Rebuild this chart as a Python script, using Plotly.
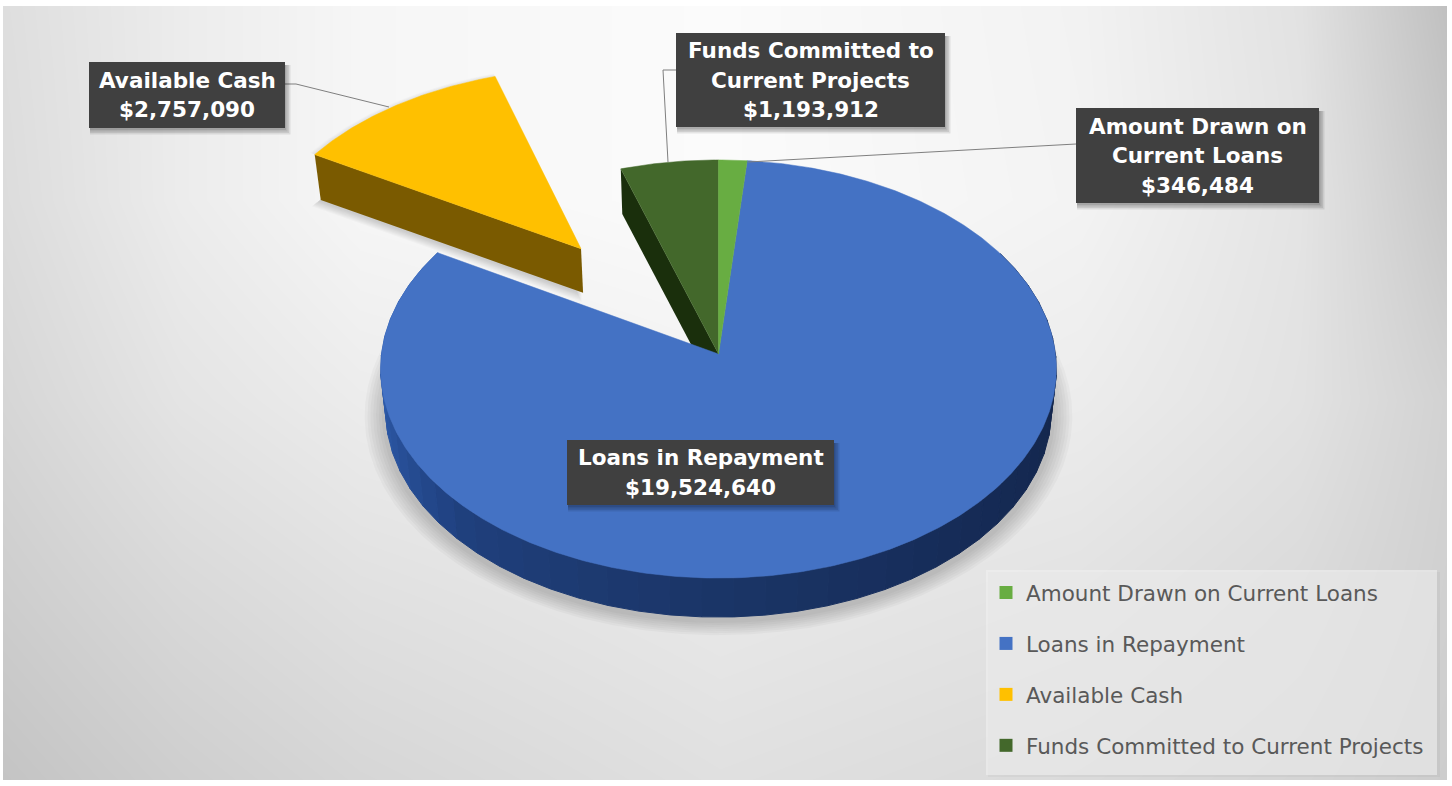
import numpy as np
import plotly.graph_objects as go

categories = ["Amount Drawn on Current Loans", "Loans in Repayment", "Available Cash", "Funds Committed to Current Projects"]
values = [346484, 19524640, 2757090, 1193912]
label_lines = [["Amount Drawn on", "Current Loans"], ["Loans in Repayment"], ["Available Cash"], ["Funds Committed to", "Current Projects"]]
explode = [0, 0, 0.6745, 0]
top_colors = ["#68ad42", "#4472c4", "#ffc000", "#43682b"]
side_colors = ["#2f5a1c", "#1e3d7a", "#7a5a00", "#1a2f0c"]
label_boxes = [(1076, 108, 1319, 203), (567, 440, 834, 505), (89, 62, 285, 128), (676, 33, 945, 127)]
leaders = [[(1076, 144), (748, 162)], [], [(285, 84), (296, 84), (389, 107)], [(676, 70), (663, 70), (668, 162)]]
bg_x = [3, 180, 360, 720, 1080, 1300, 1447]
bg_y = [6, 200, 400, 600, 780]
bg_gray = [[222, 236, 246, 251, 242, 226, 192],
           [220, 236, 246, 251, 243, 228, 200],
           [214, 228, 236, 242, 236, 226, 210],
           [205, 216, 224, 232, 226, 218, 208],
           [196, 206, 214, 224, 218, 212, 205]]

CX, CY, R, K, P = 718.5, 354.0, 337.0, 208.0, 0.0718
LOW_SCALE, LOW_SHIFT = 0.985, 42.4
LABEL_STEP = 29.5


def project(u, v, low=False):
    s = 1 / (1 + P * v)
    x = CX + R * u * s
    y = CY - K * v * s
    if low:
        x = CX + LOW_SCALE * (x - CX)
        y = CY + LOW_SCALE * (y - CY) + LOW_SHIFT
    return x, y


def wedge(a0, a1, e=0.0, low=False, grow=0.0):
    mid = np.radians((a0 + a1) / 2)
    ou, ov = e * np.sin(mid), e * np.cos(mid)
    t = np.radians(np.linspace(a0, a1, max(3, int(abs(a1 - a0) * 2))))
    rr = 1 + grow
    u = np.concatenate([[ou], ou + rr * np.sin(t), [ou]])
    v = np.concatenate([[ov], ov + rr * np.cos(t), [ov]])
    return project(u, v, low)


def poly(x, y, color, line=0.0):
    return go.Scatter(x=list(x), y=list(y), mode="lines", fill="toself", fillcolor=color,
                      line=dict(color=color, width=line), showlegend=False, hoverinfo="skip")


def mix(c0, c1, f):
    a = [int(c0[i:i + 2], 16) for i in (1, 3, 5)]
    b = [int(c1[i:i + 2], 16) for i in (1, 3, 5)]
    return "#%02x%02x%02x" % tuple(int(round(p + (q - p) * f)) for p, q in zip(a, b))


def rim_color(m):
    stops = [(90, "#13254a"), (140, "#162c58"), (185, "#1b3669"), (225, "#1f3f7c"), (255, "#2a54a0"), (275, "#2f5eae")]
    for (a0, c0), (a1, c1) in zip(stops[:-1], stops[1:]):
        if m <= a1:
            return mix(c0, c1, max(0, (m - a0) / (a1 - a0)))
    return stops[-1][1]


total = sum(values)
edges = np.concatenate([[0], np.cumsum(values) / total * 360])
fig = go.Figure()
fig.add_trace(go.Heatmap(x=bg_x, y=bg_y, z=bg_gray, zmin=0, zmax=255, zsmooth="best", showscale=False,
                         colorscale=[[0, "#000000"], [1, "#ffffff"]], hoverinfo="skip"))

# soft shadows
for k in range(7):
    g = 0.012 + k * 0.0085
    x, y = wedge(edges[1], edges[2], low=True, grow=g)
    fig.add_trace(poly(x, np.array(y) + 3, "rgba(0,0,0,0.028)"))
    x, y = wedge(edges[2], edges[3], e=explode[2], low=True, grow=g * 0.5)
    fig.add_trace(poly(np.array(x) - 1, np.array(y) + 2 + k * 1.2, "rgba(0,0,0,0.022)"))
    x, y = wedge(edges[2], edges[3], e=explode[2], low=False, grow=g * 0.3)
    fig.add_trace(poly(x, y, "rgba(0,0,0,0.012)"))

# blue rim
rim = np.linspace(max(edges[1], 60), edges[2], 48)
for a0, a1 in zip(rim[:-1], rim[1:]):
    t = np.radians([a0, a1])
    ux, uy = np.sin(t), np.cos(t)
    xt, yt = project(ux, uy)
    xb, yb = project(ux, uy, low=True)
    col = rim_color((a0 + a1) / 2)
    fig.add_trace(poly([xt[0], xt[1], xb[1], xb[0], xt[0]], [yt[0], yt[1], yb[1], yb[0], yt[0]], col, 1))

# dark green cut face (behind the blue top face)
a = np.radians(edges[3])
xt, yt = project(np.array([0, np.sin(a)]), np.array([0, np.cos(a)]))
xb, yb = project(np.array([0, np.sin(a)]), np.array([0, np.cos(a)]), low=True)
fig.add_trace(poly([xt[0], xt[1], xb[1], xb[0], xt[0]], [yt[0], yt[1], yb[1], yb[0], yt[0]], side_colors[3]))

# top faces of the joined slices
for i in (1, 3, 0):
    x, y = wedge(edges[i], edges[i + 1], e=explode[i])
    fig.add_trace(poly(x, y, top_colors[i], 0.5))

# exploded slice: cut face, then top face
a = np.radians(edges[2])
mid = np.radians((edges[2] + edges[3]) / 2)
ou, ov = explode[2] * np.sin(mid), explode[2] * np.cos(mid)
uu = np.array([ou, ou + np.sin(a)])
vv = np.array([ov, ov + np.cos(a)])
xt, yt = project(uu, vv)
xb, yb = project(uu, vv, low=True)
fig.add_trace(poly([xt[0], xt[1], xb[1], xb[0], xt[0]], [yt[0], yt[1], yb[1], yb[0], yt[0]], side_colors[2]))
x, y = wedge(edges[2], edges[3], e=explode[2])
fig.add_trace(poly(x, y, top_colors[2], 0.5))

# leader lines
for pts in leaders:
    if pts:
        fig.add_trace(go.Scatter(x=[p[0] for p in pts], y=[p[1] for p in pts], mode="lines",
                                 line=dict(color="#7f7f7f", width=1), showlegend=False, hoverinfo="skip"))

# legend entries
for name, col in zip(categories, top_colors):
    fig.add_trace(go.Scatter(x=[None], y=[None], mode="markers", name=name, legendgroup=name,
                             marker=dict(symbol="square", size=13, color=col)))

shapes = [dict(type="rect", x0=988, y0=572, x1=1440, y1=777, line_width=0, fillcolor="rgba(0,0,0,0.03)", layer="above"),
          dict(type="rect", x0=986, y0=570, x1=1437, y1=775, line_width=0, fillcolor="rgba(240,240,240,0.6)", layer="above")]
annotations = []
for box, lines, val in zip(label_boxes, label_lines, values):
    x0, y0, x1, y1 = box
    for k in range(4):
        d = 1 + k * 1.5
        shapes.append(dict(type="rect", x0=x0 + 1, y0=y0 + 3, x1=x1 + d, y1=y1 + d + 1, line_width=0,
                           fillcolor="rgba(0,0,0,0.09)", layer="above"))
    shapes.append(dict(type="rect", x0=x0, y0=y0, x1=x1, y1=y1, line_width=0, fillcolor="#404040", layer="above"))
    rows = lines + [f"${val:,}"]
    for j, row in enumerate(rows):
        annotations.append(dict(x=(x0 + x1) / 2, y=(y0 + y1) / 2 + (j - (len(rows) - 1) / 2) * LABEL_STEP,
                                xref="x", yref="y", showarrow=False, text=row, align="center", borderpad=0,
                                font=dict(family="DejaVu Sans", size=21.5, color="#ffffff", weight="bold")))

fig.update_layout(
    width=1452, height=786, margin=dict(l=3, r=5, t=6, b=6), autosize=False,
    paper_bgcolor="#ffffff", plot_bgcolor="#ffffff",
    xaxis=dict(range=[3, 1447], visible=False, fixedrange=True),
    yaxis=dict(range=[780, 6], visible=False, fixedrange=True),
    shapes=shapes, annotations=annotations,
    showlegend=True,
    legend=dict(x=(986 - 3) / 1444, y=(780 - 572) / 774, xanchor="left", yanchor="top",
                bgcolor="rgba(0,0,0,0)", borderwidth=0, tracegroupgap=20, itemwidth=30,
                font=dict(family="DejaVu Sans", size=21.5, color="#595959")),
)
fig.write_html("out.html", config={"displayModeBar": False},
               post_script="document.body.style.margin='0';document.documentElement.style.overflow='hidden';")
